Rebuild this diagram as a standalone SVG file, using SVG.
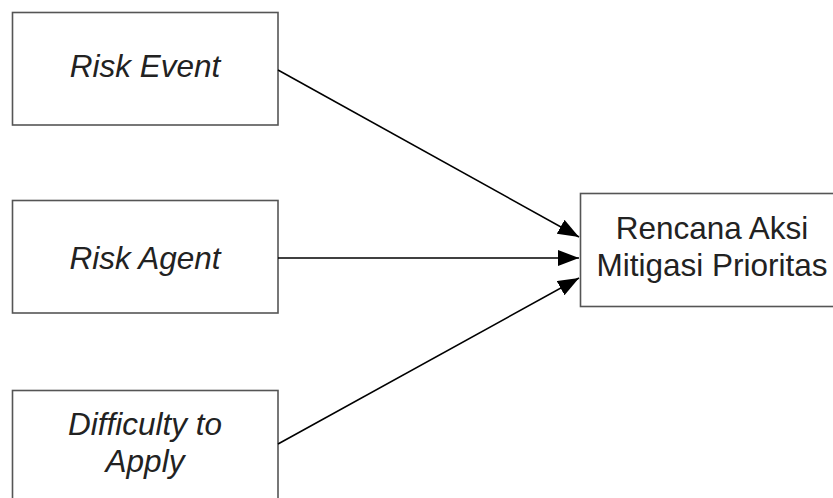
<svg xmlns="http://www.w3.org/2000/svg" width="833" height="498" viewBox="0 0 833 498">
<defs>
<style>
.box{fill:#fff;stroke:#555;stroke-width:1.6}
.lbl{font-family:"Liberation Sans",Arial,sans-serif;font-size:31.5px;fill:#222;text-anchor:middle}
.it{font-style:italic}
.con{stroke:#000;stroke-width:1.5;fill:none;marker-end:url(#ah)}
</style>
<marker id="ah" markerUnits="userSpaceOnUse" markerWidth="22" markerHeight="18" refX="21" refY="8" orient="auto">
<path d="M0,0 L21,8 L0,16 z" fill="#000"/>
</marker>
</defs>
<rect width="833" height="498" fill="#fff"/>
<g id="risk-event">
<rect class="box" x="12.5" y="12.5" width="265.5" height="112.5"/>
<text class="lbl it" x="145" y="77">Risk Event</text>
</g>
<g id="risk-agent">
<rect class="box" x="12.5" y="200.5" width="265.5" height="112.5"/>
<text class="lbl it" x="145" y="269">Risk Agent</text>
</g>
<g id="difficulty">
<rect class="box" x="12.5" y="390.5" width="265.5" height="120"/>
<text class="lbl it" x="145" y="435">Difficulty to</text>
<text class="lbl it" x="145" y="472">Apply</text>
</g>
<g id="rencana">
<rect class="box" x="580.5" y="193.5" width="265" height="113"/>
<text class="lbl" x="712" y="239">Rencana Aksi</text>
<text class="lbl" x="712" y="276">Mitigasi Prioritas</text>
</g>
<g id="connectors">
<line class="con" x1="278" y1="70" x2="579" y2="237"/>
<line class="con" x1="278" y1="258" x2="579" y2="258"/>
<line class="con" x1="278" y1="444" x2="579" y2="278"/>
</g>
</svg>
